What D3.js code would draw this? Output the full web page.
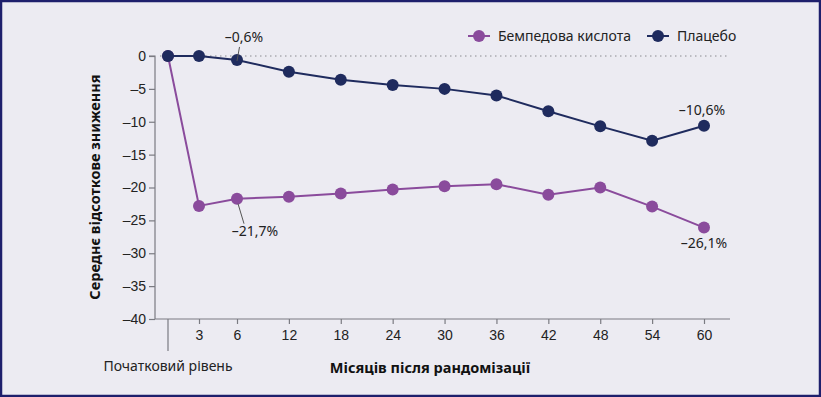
<!DOCTYPE html>
<html lang="uk">
<head>
<meta charset="UTF-8">
<title>Середнє відсоткове зниження</title>
<script src="https://cdn.jsdelivr.net/npm/d3@7/dist/d3.min.js"></script>
<style>
  html, body { margin: 0; padding: 0; background: #ecebf2; }
  svg { display: block; font-family: "Noto Sans", "Open Sans", sans-serif; }
</style>
</head>
<body>
<script>
// дані
var months = [0, 3, 6, 12, 18, 24, 30, 36, 42, 48, 54, 60];
var monthTicks = [3, 6, 12, 18, 24, 30, 36, 42, 48, 54, 60];
var bempedoic = [0, -22.8, -21.7, -21.4, -20.9, -20.3, -19.8, -19.5, -21.1, -20.0, -22.9, -26.1];
var placebo = [0, 0, -0.6, -2.4, -3.6, -4.4, -5.0, -6.0, -8.4, -10.7, -12.9, -10.6];
var yTicks = [0, -5, -10, -15, -20, -25, -30, -35, -40];
var seriesNames = ["Бемпедова кислота", "Плацебо"];
var baselineLabel = "Початковий рівень";
var xTitle = "Місяців після рандомізації";
var yTitle = "Середнє відсоткове зниження";

var width = 821, height = 397;
var colors = ["#8a4b9c", "#1f2b5e"];
var axisColor = "#7b7b82";
var textColor = "#222";

var svg = d3.select("body").append("svg")
    .attr("width", width).attr("height", height);

svg.append("rect")
    .attr("x", 1).attr("y", 1)
    .attr("width", width - 2).attr("height", height - 2)
    .attr("fill", "#ecebf2")
    .attr("stroke", "#1e1f6c")
    .attr("stroke-width", 2.5);

// шкали (вісь часу нерівномірна на початку)
var x = d3.scaleLinear().domain([0, 3, 6, 60]).range([168, 199, 237, 704]);
var y = d3.scaleLinear().domain([-40, 0]).range([319, 56]);
var axisLeft = 155, axisRight = 730;

var fmt = function(v) { return String(v).replace("-", "\u2013"); };

// вісь Y
var yAxis = svg.append("g")
    .attr("transform", "translate(" + axisLeft + ",0)")
    .call(d3.axisLeft(y).tickValues(yTicks).tickFormat(fmt).tickSize(6).tickPadding(3));
yAxis.select(".domain").attr("stroke", axisColor).attr("stroke-width", 1.2)
    .attr("d", "M-6," + y(0) + "H0V" + y(-40));
yAxis.selectAll(".tick line").attr("stroke", axisColor).attr("stroke-width", 1.2);
yAxis.selectAll(".tick text").attr("fill", textColor).style("font-size", "14px");

// вісь X
var xAxis = svg.append("g")
    .attr("transform", "translate(0," + y(-40) + ")")
    .call(d3.axisBottom(x).tickValues(monthTicks).tickSize(5).tickPadding(6));
xAxis.select(".domain").attr("stroke", axisColor).attr("stroke-width", 1.2)
    .attr("d", "M" + axisLeft + ",0H" + axisRight);
xAxis.selectAll(".tick line").attr("stroke", axisColor).attr("stroke-width", 1.2);
xAxis.selectAll(".tick text").attr("fill", textColor).style("font-size", "14px");

// позначка початкового рівня
svg.append("line")
    .attr("x1", x(0)).attr("x2", x(0))
    .attr("y1", y(-40)).attr("y2", y(-40) + 32)
    .attr("stroke", axisColor).attr("stroke-width", 1.2);
svg.append("text")
    .attr("x", x(0)).attr("y", 371)
    .attr("text-anchor", "middle")
    .attr("fill", textColor).style("font-size", "14px")
    .text(baselineLabel);

// нульова лінія
svg.append("line")
    .attr("x1", axisLeft + 5).attr("x2", axisRight)
    .attr("y1", y(0)).attr("y2", y(0))
    .attr("stroke", "#8a8a90").attr("stroke-width", 1)
    .attr("stroke-dasharray", "1.5,3.5");

// назви осей
svg.append("text")
    .attr("x", 430).attr("y", 373)
    .attr("text-anchor", "middle")
    .attr("fill", "#111").style("font-size", "14.5px").style("font-weight", "bold")
    .text(xTitle);
svg.append("text")
    .attr("transform", "translate(100,187) rotate(-90)")
    .attr("text-anchor", "middle")
    .attr("fill", "#111").style("font-size", "14.5px").style("font-weight", "bold")
    .text(yTitle);

// лінії та точки
var series = [bempedoic, placebo];
var line = d3.line()
    .x(function(d, i) { return x(months[i]); })
    .y(function(d) { return y(d); });

series.forEach(function(vals, s) {
    var g = svg.append("g");
    g.append("path")
        .attr("d", line(vals))
        .attr("fill", "none")
        .attr("stroke", colors[s])
        .attr("stroke-width", 2);
    g.selectAll("circle")
        .data(vals)
        .enter().append("circle")
        .attr("cx", function(d, i) { return x(months[i]); })
        .attr("cy", function(d) { return y(d); })
        .attr("r", 6)
        .attr("fill", colors[s]);
});

// підписи значень
var notes = [
    { s: 1, i: 2, text: "\u20130,6%", dx: 7, dy: -18, lx1: 0, ly1: 1, lx2: 2.5, ly2: -13 },
    { s: 0, i: 2, text: "\u201321,7%", dx: 18, dy: 37, lx1: 1, ly1: 5, lx2: 7, ly2: 25 },
    { s: 1, i: 11, text: "\u201310,6%", dx: -2, dy: -11 },
    { s: 0, i: 11, text: "\u201326,1%", dx: 0, dy: 20 }
];
notes.forEach(function(n) {
    var px = x(months[n.i]), py = y(series[n.s][n.i]);
    if (n.lx1 !== undefined) {
        svg.append("line")
            .attr("x1", px + n.lx1).attr("y1", py + n.ly1)
            .attr("x2", px + n.lx2).attr("y2", py + n.ly2)
            .attr("stroke", "#555").attr("stroke-width", 1);
    }
    svg.append("text")
        .attr("x", px + n.dx).attr("y", py + n.dy)
        .attr("text-anchor", "middle")
        .attr("fill", textColor).style("font-size", "14px")
        .text(n.text);
});

// легенда
var legendX = [468, 647];
seriesNames.forEach(function(name, s) {
    var lg = svg.append("g").attr("transform", "translate(" + legendX[s] + ",36)");
    lg.append("line").attr("x1", 0).attr("x2", 22)
        .attr("stroke", colors[s]).attr("stroke-width", 2);
    lg.append("circle").attr("cx", 11).attr("r", 6).attr("fill", colors[s]);
    lg.append("text").attr("x", 30).attr("y", 5)
        .attr("fill", textColor).style("font-size", "14px")
        .text(name);
});
</script>
</body>
</html>
